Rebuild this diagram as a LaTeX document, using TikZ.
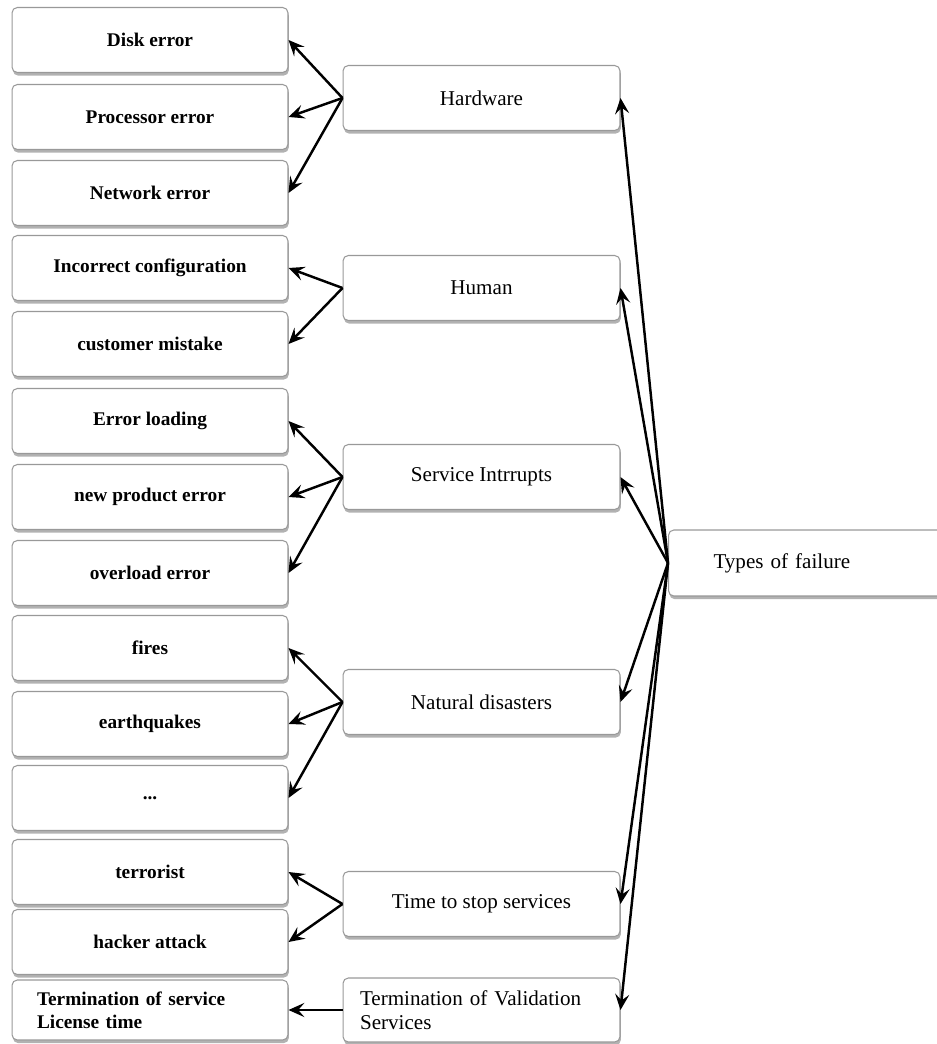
\documentclass[tikz,border=0pt]{standalone}
\usepackage{fontspec}
\setmainfont{Liberation Serif}
\usetikzlibrary{arrows.meta,shadows}

\begin{document}
\begin{tikzpicture}[x=0.02cm,y=-0.02cm,>=Stealth,
   box/.style={draw=black!40,fill=white,rounded corners=3pt,line width=0.6pt,
               drop shadow={shadow xshift=0.5pt,shadow yshift=-1.8pt,fill=black!60,opacity=0.5},
               minimum height=1.3cm,inner sep=2pt},
   leaf/.style={box,minimum width=5.52cm,font=\fontsize{11}{13}\selectfont\bfseries},
   cause/.style={box,minimum width=5.54cm,font=\fontsize{12}{14}\selectfont},
   link/.style={->,line width=1.4pt,>={Stealth[length=9pt,width=8pt,inset=3.5pt]}}]
  \useasboundingbox (0,0) rectangle (936,1044);
  % leaves
  \node[leaf] (disk) at (150,40)  {Disk error};
  \node[leaf] (proc) at (150,117) {Processor error};
  \node[leaf] (net)  at (150,193) {Network error};
  \node[leaf] (conf) at (150,268) {Incorrect configuration};
  \node[leaf] (cust) at (150,344) {customer mistake};
  \node[leaf] (load) at (150,421) {Error loading};
  \node[leaf] (prod) at (150,497) {new product error};
  \node[leaf] (over) at (150,573) {overload error};
  \node[leaf] (fire) at (150,648) {fires};
  \node[leaf] (quake) at (150,724) {earthquakes};
  \node[leaf] (etc)  at (150,798) {...};
  \node[leaf] (terr) at (150,872) {terrorist};
  \node[leaf] (hack) at (150,942) {hacker attack};
  \node[leaf,minimum height=1.2cm,align=left,text width=4.52cm,inner xsep=0.5cm]
     (lic) at (150,1010) {Termination of service\\License time};
  % causes
  \node[cause] (hw)   at (481.5,98)  {Hardware};
  \node[cause] (hum)  at (481.5,288) {Human};
  \node[cause] (serv) at (481.5,477) {Service Intrrupts};
  \node[cause] (nat)  at (481.5,702) {Natural disasters};
  \node[cause] (stop) at (481.5,904) {Time to stop services};
  \node[cause,minimum height=1.28cm,align=left,text width=4.86cm,inner xsep=0.34cm]
     (valid) at (481.5,1010) {Termination of Validation\\Services};
  % root
  \node[box,anchor=west,minimum width=6cm,minimum height=1.32cm,text width=4.2cm,
        inner xsep=0.9cm,align=left,font=\fontsize{12}{14}\selectfont]
     (types) at (668,563) {Types of failure};
  % connectors
  \draw[link] (hw.west) -- (disk.east);
  \draw[link] (hw.west) -- (proc.east);
  \draw[link] (hw.west) -- (net.east);
  \draw[link] (hum.west) -- (conf.east);
  \draw[link] (hum.west) -- (cust.east);
  \draw[link] (serv.west) -- (load.east);
  \draw[link] (serv.west) -- (prod.east);
  \draw[link] (serv.west) -- (over.east);
  \draw[link] (nat.west) -- (fire.east);
  \draw[link] (nat.west) -- (quake.east);
  \draw[link] (nat.west) -- (etc.east);
  \draw[link] (stop.west) -- (terr.east);
  \draw[link] (stop.west) -- (hack.east);
  \draw[link] (valid.west) -- (lic.east);
  \foreach \c in {hw,hum,serv,nat,stop,valid}
    \draw[link] (types.west) -- (\c.east);
\end{tikzpicture}
\end{document}
